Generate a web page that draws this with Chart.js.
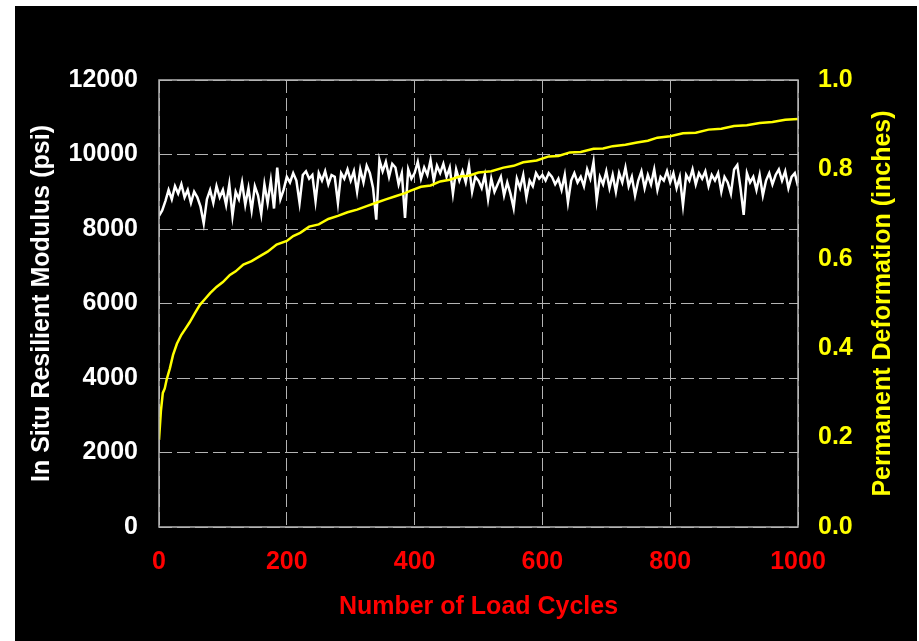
<!DOCTYPE html>
<html>
<head>
<meta charset="utf-8">
<title>Resilient Modulus and Permanent Deformation</title>
<script src="https://cdn.jsdelivr.net/npm/chart.js@4/dist/chart.umd.min.js"></script>
<style>
  html, body { margin: 0; padding: 0; background: #fff; }
  #wrap { position: absolute; left: 15px; top: 6px; width: 902px; height: 635px; background: #000; }
</style>
</head>
<body>
<div id="wrap"><canvas id="chart"></canvas></div>
<script>
// modulus readings, one every 5 load cycles (0 .. 1000)
const modulusStep = 5;
const modulusPsi = [
  8350, 8500, 8750, 9050, 8800, 9150, 8950, 9200, 8850, 9050, 8700, 9000, 8850, 8600, 8150, 8800, 9050, 8700, 9150, 8850,
  9050, 8650, 9200, 8350, 9000, 8800, 9250, 8650, 9100, 8500, 9150, 8900, 8400, 9200, 8700, 9300, 8550, 9650, 8800, 9050,
  9400, 9250, 9500, 9300, 8700, 9450, 9550, 9350, 9450, 8750, 9500, 9300, 9550, 9200, 9450, 9400, 8700, 9500, 9350, 9600,
  9300, 9550, 9000, 9600, 9250, 9700, 9500, 9100, 8250, 9850, 9550, 9800, 9400, 9750, 9650, 9200, 9500, 8300, 9600, 9350,
  9500, 9800, 9350, 9650, 9450, 9850, 9300, 9700, 9500, 9750, 9400, 9650, 8950, 9600, 9300, 9550, 9250, 9700, 9000, 9400,
  9300, 9100, 9450, 8800, 9350, 9000, 9200, 9400, 8900, 9250, 8950, 8560, 9350, 9100, 9450, 8850, 9300, 9150, 9500, 9350,
  9450, 9300, 9500, 9400, 9200, 9350, 9050, 9450, 8720, 9300, 9500, 9250, 9400, 9150, 9600, 9350, 9800, 8780, 9400, 9200,
  9550, 9100, 9450, 9000, 9500, 9250, 9650, 9150, 9400, 8900, 9300, 9550, 9100, 9450, 9200, 9600, 9050, 9400, 9300, 9550,
  9250, 9500, 9100, 9400, 8640, 9450, 9300, 9600, 9200, 9500, 9350, 9550, 9150, 9450, 9300, 9500, 9000, 9400, 9250, 8950,
  9600, 9720, 9100, 8380, 9500, 9250, 9400, 9050, 9450, 8900, 9300, 9500, 9200, 9450, 9600, 9300, 9550, 9100, 9400, 9500,
  9150
];

// permanent deformation, denser sampling early on
const defCycles = [
  0, 3, 6, 9, 12, 17, 22, 28, 35, 42, 48, 56, 64, 72, 80, 90, 100, 111, 120, 132,
  145, 158, 170, 184, 200, 210, 221, 235, 250, 265, 280, 295, 310, 325, 341, 355, 370, 385, 393, 410,
  425, 440, 455, 470, 485, 500, 520, 539, 555, 570, 591, 610, 625, 643, 660, 680, 695, 710, 730, 748,
  765, 780, 800, 820, 840, 860, 880, 900, 920, 940, 960, 980, 1000
];
const defInches = [
  0.195, 0.26, 0.30, 0.31, 0.33, 0.355, 0.385, 0.41, 0.43, 0.445, 0.458, 0.478, 0.497, 0.51, 0.523, 0.537, 0.548, 0.564, 0.572, 0.587,
  0.595, 0.606, 0.616, 0.632, 0.640, 0.651, 0.658, 0.672, 0.677, 0.689, 0.696, 0.704, 0.710, 0.718, 0.726, 0.733, 0.740, 0.747, 0.752, 0.761,
  0.764, 0.773, 0.777, 0.784, 0.786, 0.793, 0.796, 0.804, 0.808, 0.816, 0.820, 0.829, 0.830, 0.838, 0.839, 0.846, 0.847, 0.852, 0.855, 0.860,
  0.864, 0.871, 0.874, 0.881, 0.882, 0.889, 0.891, 0.897, 0.899, 0.904, 0.906, 0.911, 0.913
];

const FONT = "'Liberation Sans', Arial, sans-serif";
const GRID = '#b4b4b4';
const LABEL_FONT = { family: FONT, size: 25, weight: 'bold' };

// plot frame + right-hand title (reads bottom to top like the left one)
const framePlugin = {
  id: 'frame',
  afterDraw(chart) {
    const { ctx, chartArea: a } = chart;
    ctx.save();
    ctx.strokeStyle = GRID;
    ctx.lineWidth = 1.5;
    ctx.strokeRect(a.left, a.top, a.right - a.left, a.bottom - a.top);
    ctx.translate(868.5, (a.top + a.bottom) / 2);
    ctx.rotate(-Math.PI / 2);
    ctx.fillStyle = '#ffff00';
    ctx.font = 'bold 25px ' + FONT;
    ctx.textAlign = 'center';
    ctx.textBaseline = 'middle';
    ctx.fillText('Permanent Deformation (inches)', 0, 0);
    ctx.restore();
  }
};

const modulusData = modulusPsi.map((v, i) => ({ x: i * modulusStep, y: v }));
const defData = defCycles.map((c, i) => ({ x: c, y: defInches[i] }));

new Chart(document.getElementById('chart'), {
  type: 'line',
  data: {
    datasets: [
      {
        label: 'Deformation',
        data: defData,
        yAxisID: 'y2',
        borderColor: '#ffff00',
        borderWidth: 2.5,
        pointRadius: 0,
        tension: 0
      },
      {
        label: 'Modulus',
        data: modulusData,
        yAxisID: 'y',
        borderColor: '#ffffff',
        borderWidth: 2.5,
        pointRadius: 0,
        tension: 0
      }
    ]
  },
  options: {
    responsive: true,
    maintainAspectRatio: false,
    animation: false,
    layout: { padding: { top: 74, left: 0, right: 0, bottom: 0 } },
    plugins: { legend: { display: false }, tooltip: { enabled: false } },
    scales: {
      x: {
        type: 'linear',
        min: 0,
        max: 1000,
        afterFit: (s) => { s.height = 114; },
        ticks: { stepSize: 200, color: '#ff0000', padding: 20, font: LABEL_FONT, callback: (v) => String(v) },
        grid: { color: GRID, lineWidth: 1, drawTicks: false },
        border: { display: false, dash: [13, 5] },
        title: {
          display: true,
          text: 'Number of Load Cycles',
          color: '#ff0000',
          padding: { top: 0, bottom: 19 },
          font: LABEL_FONT
        }
      },
      y: {
        position: 'left',
        min: 0,
        max: 12000,
        afterFit: (s) => { s.width = 144; },
        ticks: { stepSize: 2000, color: '#ffffff', padding: 21, font: LABEL_FONT, callback: (v) => String(v) },
        grid: { color: GRID, lineWidth: 1, drawTicks: false },
        border: { display: false, dash: [13, 5] },
        title: {
          display: true,
          text: 'In Situ Resilient Modulus (psi)',
          color: '#ffffff',
          padding: { top: 12, bottom: 0 },
          font: LABEL_FONT
        }
      },
      y2: {
        position: 'right',
        min: 0,
        max: 1,
        afterFit: (s) => { s.width = 119; },
        ticks: {
          stepSize: 0.2,
          color: '#ffff00',
          padding: 20,
          font: LABEL_FONT,
          callback: (v) => v.toFixed(1)
        },
        grid: { display: false, drawTicks: false },
        border: { display: false }
      }
    }
  },
  plugins: [framePlugin]
});
</script>
</body>
</html>
